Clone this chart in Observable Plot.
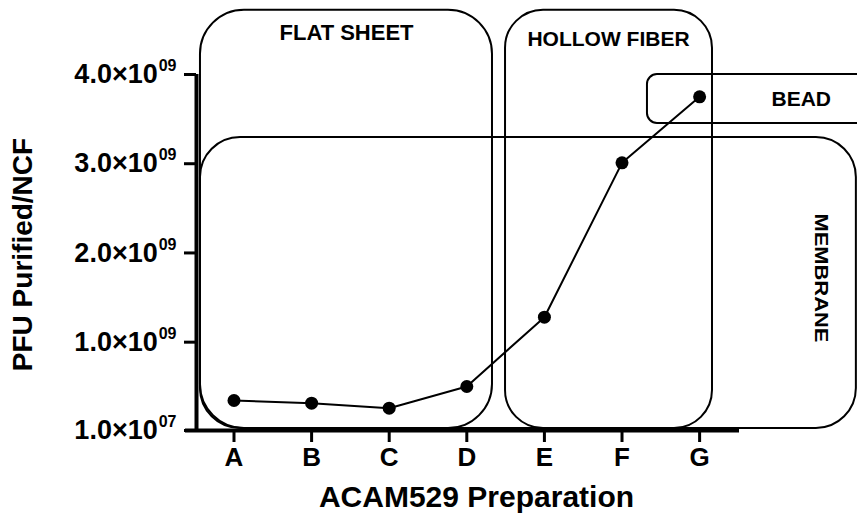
<!DOCTYPE html>
<html>
<head>
<meta charset="utf-8">
<script src="https://cdn.jsdelivr.net/npm/d3@7"></script>
<script src="https://cdn.jsdelivr.net/npm/@observablehq/plot@0.6"></script>
<style>
  html, body { margin: 0; padding: 0; background: #fff; }
  #chart { width: 857px; height: 516px; overflow: hidden; }
</style>
</head>
<body>
<div id="chart"></div>
<script>
// ---- data ----
const categories = ["A", "B", "C", "D", "E", "F", "G"];
const pfu = [3.46e8, 3.16e8, 2.6e8, 5.03e8, 1.28e9, 3.01e9, 3.75e9];
const yTicks = [1e7, 1e9, 2e9, 3e9, 4e9];
const yTickLabels = ["1.0×10^07", "1.0×10^09", "2.0×10^09", "3.0×10^09", "4.0×10^09"];
const xTitle = "ACAM529 Preparation";
const yTitle = "PFU Purified/NCF";
// grouping boxes (in category-index units and PFU units)
const groupNames = ["FLAT SHEET", "HOLLOW FIBER", "MEMBRANE", "BEAD"];
const groupFrom = [-0.432, 3.499, -0.432, 5.328];
const groupTo = [3.331, 6.166, 8.02, 8.3];
const groupLow = [3.2e7, 3.2e7, 3.2e7, 3.451e9];
const groupHigh = [4.72e9, 4.72e9, 3.294e9, 4.0e9];
const groupRadius = [44, 38, 40, 10];
// label anchors for each group
const labelX = [1.45, 4.826, 7.57, 7.31];
const labelY = [4.47e9, 4.40e9, 1.72e9, 3.72e9];

const points = categories.map((c, i) => ({i, c, v: pfu[i]}));
const groups = groupNames.map((name, k) => ({
  name, x1: groupFrom[k], x2: groupTo[k], y1: groupLow[k], y2: groupHigh[k],
  r: groupRadius[k], lx: labelX[k], ly: labelY[k]
}));

const xDomain = [-0.4832, 6.514];
const font = "'Liberation Sans', Arial, Helvetica, sans-serif";

const labelStyle = {
  "FLAT SHEET": {fontSize: 22, rotate: 0},
  "HOLLOW FIBER": {fontSize: 21, rotate: 0},
  "MEMBRANE": {fontSize: 19, rotate: 90},
  "BEAD": {fontSize: 21, rotate: 0}
};

const plot = Plot.plot({
  width: 857,
  height: 516,
  marginLeft: 196,
  marginRight: 118,
  marginTop: 74,
  marginBottom: 86,
  style: {fontFamily: font, fontWeight: "bold", color: "black", background: "white", overflow: "hidden"},
  x: {type: "linear", domain: xDomain},
  y: {type: "linear", domain: [1e7, 4e9]},
  marks: [
    // grouping boxes
    ...groups.map(g => Plot.rect([g], {
      x1: "x1", x2: "x2", y1: "y1", y2: "y2",
      rx: g.r, ry: g.r, fill: "none", stroke: "black", strokeWidth: 2
    })),
    // group labels
    ...groups.map(g => Plot.text([g], {
      x: "lx", y: "ly", text: "name",
      fontSize: labelStyle[g.name].fontSize, rotate: labelStyle[g.name].rotate,
      fontWeight: "bold", fill: "black", textAnchor: "middle", lineAnchor: "middle"
    })),
    // axes lines
    Plot.ruleY([1e7], {x1: -0.625, x2: xDomain[1], stroke: "black", strokeWidth: 4}),
    Plot.ruleX([xDomain[0]], {y1: 1e7, y2: 4e9, stroke: "black", strokeWidth: 4}),
    Plot.axisX({
      ticks: d3.range(categories.length),
      tickFormat: i => categories[i],
      tickSize: 12, tickPadding: 5, strokeWidth: 3,
      fontSize: 26, label: null
    }),
    Plot.axisY({
      ticks: yTicks,
      tickFormat: v => yTickLabels[yTicks.indexOf(v)],
      tickSize: 12, tickPadding: 8, strokeWidth: 3,
      fontSize: 27, label: null
    }),
    // data
    Plot.line(points, {x: "i", y: "v", stroke: "black", strokeWidth: 2}),
    Plot.dot(points, {x: "i", y: "v", r: 6.5, fill: "black", stroke: "none"}),
    // titles
    Plot.text([yTitle], {frameAnchor: "left", dx: -173, dy: 2, rotate: -90, fontSize: 28, fontWeight: "bold", textAnchor: "middle", lineAnchor: "middle"}),
    Plot.text([xTitle], {frameAnchor: "bottom", dx: 8.5, dy: 67, fontSize: 30, fontWeight: "bold", textAnchor: "middle", lineAnchor: "middle"})
  ]
});

// superscript exponents on y tick labels, and stretch the MEMBRANE label
plot.querySelectorAll("text").forEach(t => {
  const s = t.textContent;
  if (s.includes("^")) {
    const [base, exp] = s.split("^");
    t.textContent = base;
    const ts = document.createElementNS("http://www.w3.org/2000/svg", "tspan");
    ts.setAttribute("font-size", "16");
    ts.setAttribute("dy", "-12");
    ts.setAttribute("dx", "1");
    ts.textContent = exp;
    t.appendChild(ts);
  } else if (s === "MEMBRANE") {
    t.setAttribute("textLength", "129");
    t.setAttribute("lengthAdjust", "spacingAndGlyphs");
  }
});

document.getElementById("chart").appendChild(plot);
</script>
</body>
</html>
